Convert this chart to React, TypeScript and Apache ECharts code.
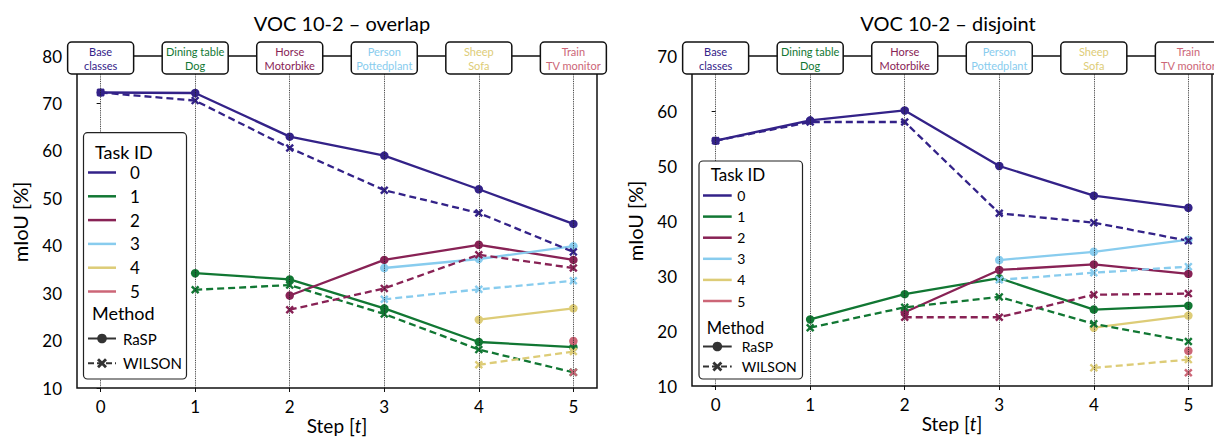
import React, { useEffect, useRef } from 'react';
import * as echarts from 'echarts';

const steps = [0, 1, 2, 3, 4, 5];
const taskIds = ['0', '1', '2', '3', '4', '5'];
const taskColors = ['#332288', '#117733', '#882255', '#88CCEE', '#DDCC77', '#CC6677'];
const boxLabels = ['Base\nclasses', 'Dining table\nDog', 'Horse\nMotorbike', 'Person\nPottedplant', 'Sheep\nSofa', 'Train\nTV monitor'];
const methods = ['RaSP', 'WILSON'];
const panelTitles = ['VOC 10-2 – overlap', 'VOC 10-2 – disjoint'];
const yMins = [10, 10];
const yMaxs = [80, 70];

// overlap: rows = task id, columns = step
const overlapRaSP = [
  [72.3, 72.2, 63.0, 59.0, 51.9, 44.6],
  [null, 34.2, 32.9, 26.8, 19.7, 18.6],
  [null, null, 29.5, 37.0, 40.2, 37.0],
  [null, null, null, 35.3, 37.2, 39.9],
  [null, null, null, null, 24.4, 26.8],
  [null, null, null, null, null, 19.9],
];
const overlapWILSON = [
  [72.3, 70.6, 60.6, 51.7, 46.9, 38.7],
  [null, 30.7, 31.7, 25.6, 18.1, 13.3],
  [null, null, 26.5, 31.0, 38.1, 35.3],
  [null, null, null, 28.7, 30.8, 32.6],
  [null, null, null, null, 14.9, 17.7],
  [null, null, null, null, null, 13.3],
];
// disjoint
const disjointRaSP = [
  [54.6, 58.3, 60.1, 50.0, 44.6, 42.4],
  [null, 22.1, 26.7, 29.6, 23.9, 24.6],
  [null, null, 23.4, 31.1, 32.1, 30.4],
  [null, null, null, 32.9, 34.4, 36.6],
  [null, null, null, null, 20.6, 22.8],
  [null, null, null, null, null, 16.4],
];
const disjointWILSON = [
  [54.6, 58.0, 58.0, 41.4, 39.7, 36.4],
  [null, 20.6, 24.3, 26.2, 21.3, 18.1],
  [null, null, 22.5, 22.5, 26.6, 26.8],
  [null, null, null, 29.3, 30.6, 31.7],
  [null, null, null, null, 13.3, 14.8],
  [null, null, null, null, null, 12.4],
];

const panels = [
  [overlapRaSP, overlapWILSON],
  [disjointRaSP, disjointWILSON],
];

const FONT = 'Lato, "Open Sans", sans-serif';
const XSYM = 'path://M2,0 L5,3 L8,0 L10,2 L7,5 L10,8 L8,10 L5,7 L2,10 L0,8 L3,5 L0,2 Z';

const gridPos = [
  { left: 77, top: 56, width: 520, height: 332 },
  { left: 692, top: 56, width: 520, height: 330 },
];

const legendCfg = [
  {
    x: 83.5, y: 132.7, w: 103, h: 246.3,
    titleX: 95, titleY: 151.5, titleSize: 18,
    hx1: 88, hx2: 116, itemY0: 172.5, itemDy: 23.8, labelX: 130, labelSize: 17,
    methX: 92, methY: 313, methSize: 18,
    mY: [338.5, 363.3], mLabelX: 123, mSize: 15,
  },
  {
    x: 699, y: 161, w: 103.5, h: 218,
    titleX: 710.7, titleY: 174, titleSize: 17,
    hx1: 703, hx2: 731.7, itemY0: 195.5, itemDy: 21.1, labelX: 737.3, labelSize: 14,
    methX: 706.7, methY: 328, methSize: 16.5,
    mY: [346.5, 366.5], mLabelX: 741.7, mSize: 14,
  },
];

function xPoints(cx: number, cy: number, s: number) {
  const p = [[2, 0], [5, 3], [8, 0], [10, 2], [7, 5], [10, 8], [8, 10], [5, 7], [2, 10], [0, 8], [3, 5], [0, 2]];
  return p.map(([a, b]) => [cx + (a - 5) * s / 10, cy + (b - 5) * s / 10]);
}

function legendGraphics(c: any) {
  const els: any[] = [];
  els.push({
    type: 'rect', z: 100,
    shape: { x: c.x, y: c.y, width: c.w, height: c.h, r: 4 },
    style: { fill: '#fff', stroke: '#222', lineWidth: 1.2 },
  });
  els.push({
    type: 'text', z: 101, x: c.titleX, y: c.titleY,
    style: { text: 'Task ID', fontSize: c.titleSize, fontFamily: FONT, fill: '#000', verticalAlign: 'middle' },
  });
  taskIds.forEach((t, k) => {
    const yy = c.itemY0 + c.itemDy * k;
    els.push({ type: 'line', z: 101, shape: { x1: c.hx1, y1: yy, x2: c.hx2, y2: yy }, style: { stroke: taskColors[k], lineWidth: 2.5 } });
    els.push({ type: 'text', z: 101, x: c.labelX, y: yy, style: { text: t, fontSize: c.labelSize, fontFamily: FONT, fill: '#000', verticalAlign: 'middle' } });
  });
  els.push({
    type: 'text', z: 101, x: c.methX, y: c.methY,
    style: { text: 'Method', fontSize: c.methSize, fontFamily: FONT, fill: '#000', verticalAlign: 'middle' },
  });
  methods.forEach((m, j) => {
    const yy = c.mY[j];
    const cx = (c.hx1 + c.hx2) / 2;
    els.push({ type: 'line', z: 101, shape: { x1: c.hx1, y1: yy, x2: c.hx2, y2: yy }, style: { stroke: '#333', lineWidth: 2, lineDash: j === 0 ? null : [6, 3] } });
    if (j === 0) {
      els.push({ type: 'circle', z: 102, shape: { cx, cy: yy, r: 4.8 }, style: { fill: '#333' } });
    } else {
      els.push({ type: 'polygon', z: 102, shape: { points: xPoints(cx, yy, 10) }, style: { fill: '#333' } });
    }
    els.push({ type: 'text', z: 101, x: c.mLabelX, y: yy, style: { text: m, fontSize: c.mSize, fontFamily: FONT, fill: '#000', verticalAlign: 'middle' } });
  });
  return els;
}

export default function App() {
  const ref = useRef<HTMLDivElement>(null);
  useEffect(() => {
    document.body.style.margin = '0';
    const chart = echarts.init(ref.current!, null, { renderer: 'svg' });
    const series: any[] = [];
    panels.forEach((pm, p) => {
      pm.forEach((arr, m) => {
        arr.forEach((vals, k) => {
          const data = steps.map((s, i) => [s, vals[i]]).filter((d) => d[1] != null);
          series.push({
            type: 'line', xAxisIndex: p, yAxisIndex: p, data,
            symbol: m === 0 ? 'circle' : XSYM,
            symbolSize: m === 0 ? 8.5 : 8.5,
            showAllSymbol: true,
            lineStyle: { color: taskColors[k], width: 2.3, type: m === 0 ? 'solid' : [7, 4] },
            itemStyle: { color: taskColors[k] },
            z: 3,
          });
        });
      });
      series.push({
        type: 'line', xAxisIndex: p, yAxisIndex: p, data: [], z: 1,
        markLine: {
          silent: true, symbol: ['none', 'none'], label: { show: false },
          lineStyle: { type: 'dotted', color: '#222', width: 0.9 },
          data: steps.map((s) => ({ xAxis: s })),
        },
      });
    });

    const option: any = {
      animation: false,
      textStyle: { fontFamily: FONT },
      title: panelTitles.map((t, p) => ({
        text: t, left: p === 0 ? 337 : 943, top: 8, textAlign: 'center',
        textStyle: { fontSize: 20, fontWeight: 'normal', color: '#000', fontFamily: FONT },
      })),
      grid: gridPos.map((g) => ({ ...g, show: true, borderColor: '#111', borderWidth: 1.5, backgroundColor: 'transparent', containLabel: false, outerBoundsMode: 'none' })),
      xAxis: panels.map((_, p) => ({
        type: 'value', gridIndex: p, min: -0.25, max: 5.25,
        axisLine: { show: false },
        splitLine: { show: false },
        axisTick: { show: true, customValues: steps, length: 4, lineStyle: { color: '#111' } },
        axisLabel: { customValues: steps, fontSize: 17, color: '#000', margin: 10, fontFamily: FONT },
        name: 'Step [{i|t}]', nameLocation: 'middle', nameGap: 28, nameMoveOverlap: false,
        nameTextStyle: { fontSize: 19, lineHeight: 19, color: '#000', fontFamily: FONT, rich: { i: { fontStyle: 'italic', fontSize: 19, lineHeight: 19, fontFamily: FONT, color: '#000' } } },
      })),
      yAxis: panels.map((_, p) => ({
        type: 'value', gridIndex: p, min: yMins[p], max: yMaxs[p], interval: 10,
        axisLine: { show: false },
        splitLine: { show: false },
        axisTick: { show: true, length: 4, lineStyle: { color: '#111' } },
        axisLabel: { fontSize: 17, color: '#000', margin: 15, fontFamily: FONT },
        name: 'mIoU [%]', nameLocation: 'middle', nameGap: 47, nameMoveOverlap: false,
        nameTextStyle: { fontSize: 20, color: '#000', fontFamily: FONT },
      })),
      series,
    };
    chart.setOption(option);

    const graphics: any[] = [];
    panels.forEach((_, p) => {
      steps.forEach((s, i) => {
        const [px, py] = chart.convertToPixel({ gridIndex: p } as any, [s, yMaxs[p]]);
        graphics.push({
          type: 'rect', z: 100,
          shape: { x: px - 33, y: py - 14, width: 66, height: 32, r: 4 },
          style: { fill: '#fff', stroke: '#111', lineWidth: 1.5 },
        });
        graphics.push({
          type: 'text', z: 101, x: px, y: py + 2,
          style: { text: boxLabels[i], fontSize: 11, lineHeight: 14, fontFamily: FONT, fill: taskColors[i], align: 'center', verticalAlign: 'middle' },
        });
      });
      graphics.push(...legendGraphics(legendCfg[p]));
    });
    chart.setOption({ graphic: graphics });

    return () => chart.dispose();
  }, []);
  return <div ref={ref} style={{ width: 1214, height: 438 }} />;
}
